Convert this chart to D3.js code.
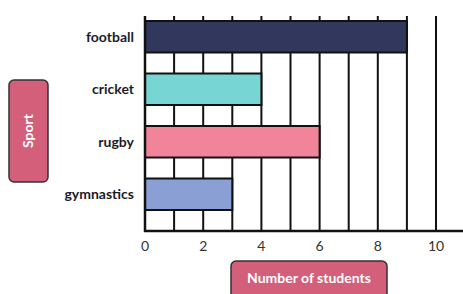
<!DOCTYPE html>
<html>
<head>
<meta charset="utf-8">
<script src="https://cdn.jsdelivr.net/npm/d3@7"></script>
<style>
  body { margin: 0; background: #fff; }
  svg { display: block; font-family: Lato, "Open Sans", sans-serif; }
</style>
</head>
<body>
<svg id="chart"></svg>
<script>
// data
var sports = ["football", "cricket", "rugby", "gymnastics"]
var students = [9, 4, 6, 3]
var colors = ["#32375e", "#77d6d3", "#f2849a", "#8a9fd3"]
var xTicks = [0, 2, 4, 6, 8, 10]

var width = 463
var height = 294
var ink = "#111"

var svg = d3.select("#chart")
    .attr("width", width)
    .attr("height", height)

var x = d3.scaleLinear().domain([0, 10]).range([145, 436])
var y = d3.scaleBand().domain(sports).range([0, 231]).paddingInner(0.4).paddingOuter(0.4)

var gridTop = 16, gridBottom = 231

// vertical grid lines at every student
svg.append("g").selectAll("line")
  .data(d3.range(1, 11))
  .enter().append("line")
    .attr("x1", function(d){ return x(d) })
    .attr("x2", function(d){ return x(d) })
    .attr("y1", gridTop)
    .attr("y2", gridBottom)
    .attr("stroke", ink)
    .attr("stroke-width", 2)

// bars
svg.append("g").selectAll("rect")
  .data(students)
  .enter().append("rect")
    .attr("x", x(0))
    .attr("y", function(d, i){ return y(sports[i]) })
    .attr("width", function(d){ return x(d) - x(0) })
    .attr("height", y.bandwidth())
    .attr("fill", function(d, i){ return colors[i] })
    .attr("stroke", ink)
    .attr("stroke-width", 2)

// axes lines
svg.append("line")
  .attr("x1", x(0)).attr("x2", x(0))
  .attr("y1", gridTop).attr("y2", gridBottom + 1)
  .attr("stroke", ink).attr("stroke-width", 2.5)
svg.append("line")
  .attr("x1", x(0) - 1).attr("x2", width)
  .attr("y1", gridBottom).attr("y2", gridBottom)
  .attr("stroke", ink).attr("stroke-width", 2.5)

// x tick labels
svg.append("g").selectAll("text")
  .data(xTicks)
  .enter().append("text")
    .attr("x", function(d){ return x(d) })
    .attr("y", 251)
    .attr("text-anchor", "middle")
    .attr("font-size", 14)
    .attr("fill", "#333")
    .text(function(d){ return d })

// category labels
svg.append("g").selectAll("text")
  .data(sports)
  .enter().append("text")
    .attr("x", 134)
    .attr("y", function(d){ return y(d) + y.bandwidth() / 2 + 5 })
    .attr("text-anchor", "end")
    .attr("font-size", 14)
    .attr("font-weight", "bold")
    .attr("fill", "#1c1c2a")
    .text(function(d){ return d })

// axis title boxes
svg.append("rect")
  .attr("x", 9).attr("y", 80).attr("width", 39).attr("height", 102)
  .attr("rx", 5).attr("fill", "#d35f7b").attr("stroke", "#333").attr("stroke-width", 1.5)
svg.append("text")
  .attr("transform", "translate(33,131) rotate(-90)")
  .attr("text-anchor", "middle")
  .attr("font-size", 14).attr("font-weight", "bold").attr("fill", "#fff")
  .text("Sport")

svg.append("rect")
  .attr("x", 231).attr("y", 261).attr("width", 156).attr("height", 45)
  .attr("rx", 5).attr("fill", "#d35f7b").attr("stroke", "#333").attr("stroke-width", 1.5)
svg.append("text")
  .attr("x", 309).attr("y", 283)
  .attr("text-anchor", "middle")
  .attr("font-size", 14).attr("font-weight", "bold").attr("fill", "#fff")
  .text("Number of students")
</script>
</body>
</html>
